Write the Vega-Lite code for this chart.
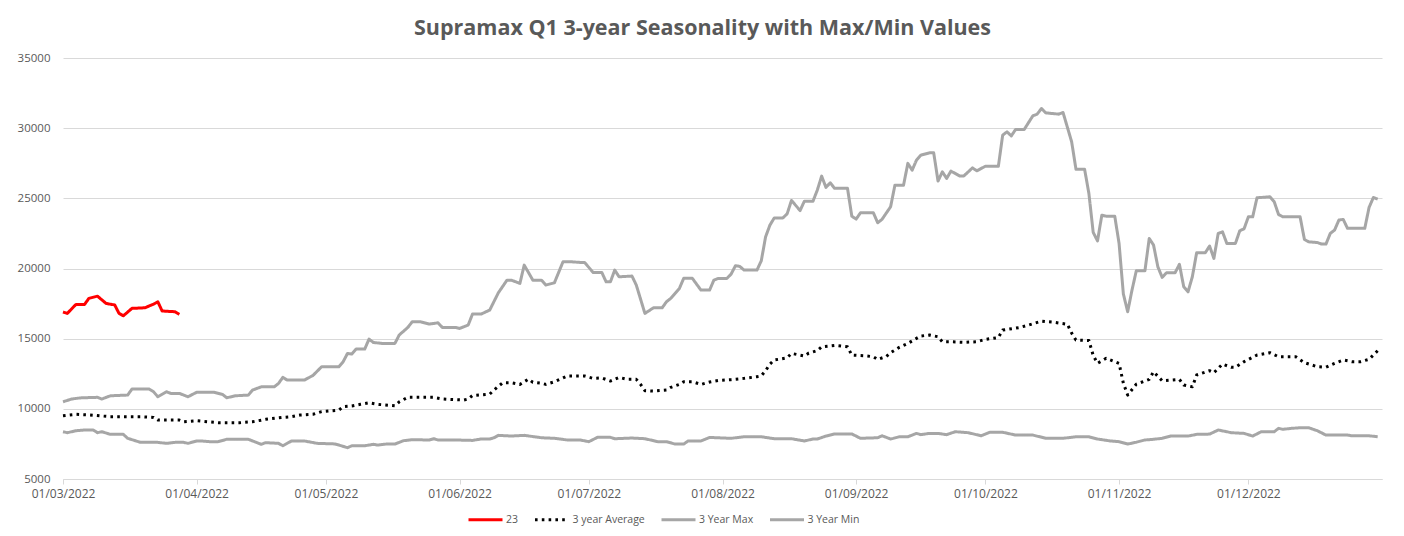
{
"$schema":"https://vega.github.io/schema/vega-lite/v6.json",
"width":1319,"height":421,
"autosize":{"type":"none"},
"padding":{"left":63,"top":58,"right":22,"bottom":57},
"background":"white",
"title":{"text":"Supramax Q1 3-year Seasonality with Max/Min Values","font":"Open Sans","fontSize":21.5,"fontWeight":"bold","color":"#595959","anchor":"middle","dx":-20,"offset":-4,"baseline":"alphabetic"},
"config":{"view":{"stroke":null},
"legend":{"orient":"none","legendX":404,"legendY":443,"direction":"horizontal","title":null,"symbolType":"stroke","symbolSize":1156,"symbolStrokeWidth":3,"labelFont":"Open Sans","labelFontSize":10.5,"labelColor":"#595959","columnPadding":9.5,"labelOffset":2}},
"data":{"values":[
{"series":"3 Year Max","date":"2022-03-01","value":10500},
{"series":"3 Year Max","date":"2022-03-03","value":10700},
{"series":"3 Year Max","date":"2022-03-05","value":10780},
{"series":"3 Year Max","date":"2022-03-09","value":10820},
{"series":"3 Year Max","date":"2022-03-10","value":10700},
{"series":"3 Year Max","date":"2022-03-12","value":10930},
{"series":"3 Year Max","date":"2022-03-16","value":10980},
{"series":"3 Year Max","date":"2022-03-17","value":11410},
{"series":"3 Year Max","date":"2022-03-21","value":11410},
{"series":"3 Year Max","date":"2022-03-22","value":11220},
{"series":"3 Year Max","date":"2022-03-23","value":10860},
{"series":"3 Year Max","date":"2022-03-25","value":11220},
{"series":"3 Year Max","date":"2022-03-26","value":11100},
{"series":"3 Year Max","date":"2022-03-28","value":11100},
{"series":"3 Year Max","date":"2022-03-30","value":10860},
{"series":"3 Year Max","date":"2022-04-01","value":11180},
{"series":"3 Year Max","date":"2022-04-05","value":11180},
{"series":"3 Year Max","date":"2022-04-07","value":11030},
{"series":"3 Year Max","date":"2022-04-08","value":10790},
{"series":"3 Year Max","date":"2022-04-10","value":10930},
{"series":"3 Year Max","date":"2022-04-13","value":10980},
{"series":"3 Year Max","date":"2022-04-14","value":11340},
{"series":"3 Year Max","date":"2022-04-16","value":11570},
{"series":"3 Year Max","date":"2022-04-19","value":11570},
{"series":"3 Year Max","date":"2022-04-20","value":11810},
{"series":"3 Year Max","date":"2022-04-21","value":12240},
{"series":"3 Year Max","date":"2022-04-22","value":12050},
{"series":"3 Year Max","date":"2022-04-26","value":12050},
{"series":"3 Year Max","date":"2022-04-28","value":12380},
{"series":"3 Year Max","date":"2022-04-30","value":13000},
{"series":"3 Year Max","date":"2022-05-04","value":13000},
{"series":"3 Year Max","date":"2022-05-05","value":13360},
{"series":"3 Year Max","date":"2022-05-06","value":13950},
{"series":"3 Year Max","date":"2022-05-07","value":13900},
{"series":"3 Year Max","date":"2022-05-08","value":14260},
{"series":"3 Year Max","date":"2022-05-10","value":14260},
{"series":"3 Year Max","date":"2022-05-11","value":14970},
{"series":"3 Year Max","date":"2022-05-12","value":14730},
{"series":"3 Year Max","date":"2022-05-14","value":14660},
{"series":"3 Year Max","date":"2022-05-17","value":14660},
{"series":"3 Year Max","date":"2022-05-18","value":15260},
{"series":"3 Year Max","date":"2022-05-20","value":15800},
{"series":"3 Year Max","date":"2022-05-21","value":16200},
{"series":"3 Year Max","date":"2022-05-23","value":16200},
{"series":"3 Year Max","date":"2022-05-25","value":16040},
{"series":"3 Year Max","date":"2022-05-27","value":16130},
{"series":"3 Year Max","date":"2022-05-28","value":15800},
{"series":"3 Year Max","date":"2022-05-31","value":15800},
{"series":"3 Year Max","date":"2022-06-01","value":15730},
{"series":"3 Year Max","date":"2022-06-03","value":15970},
{"series":"3 Year Max","date":"2022-06-04","value":16750},
{"series":"3 Year Max","date":"2022-06-06","value":16750},
{"series":"3 Year Max","date":"2022-06-08","value":17040},
{"series":"3 Year Max","date":"2022-06-10","value":18270},
{"series":"3 Year Max","date":"2022-06-12","value":19170},
{"series":"3 Year Max","date":"2022-06-13","value":19170},
{"series":"3 Year Max","date":"2022-06-15","value":18940},
{"series":"3 Year Max","date":"2022-06-16","value":20240},
{"series":"3 Year Max","date":"2022-06-18","value":19170},
{"series":"3 Year Max","date":"2022-06-20","value":19170},
{"series":"3 Year Max","date":"2022-06-21","value":18820},
{"series":"3 Year Max","date":"2022-06-23","value":18980},
{"series":"3 Year Max","date":"2022-06-25","value":20480},
{"series":"3 Year Max","date":"2022-06-27","value":20480},
{"series":"3 Year Max","date":"2022-06-29","value":20430},
{"series":"3 Year Max","date":"2022-06-30","value":20430},
{"series":"3 Year Max","date":"2022-07-02","value":19720},
{"series":"3 Year Max","date":"2022-07-04","value":19720},
{"series":"3 Year Max","date":"2022-07-05","value":19050},
{"series":"3 Year Max","date":"2022-07-06","value":19050},
{"series":"3 Year Max","date":"2022-07-07","value":19890},
{"series":"3 Year Max","date":"2022-07-08","value":19410},
{"series":"3 Year Max","date":"2022-07-11","value":19460},
{"series":"3 Year Max","date":"2022-07-12","value":18820},
{"series":"3 Year Max","date":"2022-07-14","value":16800},
{"series":"3 Year Max","date":"2022-07-16","value":17200},
{"series":"3 Year Max","date":"2022-07-18","value":17200},
{"series":"3 Year Max","date":"2022-07-19","value":17630},
{"series":"3 Year Max","date":"2022-07-20","value":17870},
{"series":"3 Year Max","date":"2022-07-22","value":18580},
{"series":"3 Year Max","date":"2022-07-23","value":19300},
{"series":"3 Year Max","date":"2022-07-25","value":19300},
{"series":"3 Year Max","date":"2022-07-27","value":18460},
{"series":"3 Year Max","date":"2022-07-29","value":18460},
{"series":"3 Year Max","date":"2022-07-30","value":19170},
{"series":"3 Year Max","date":"2022-07-31","value":19290},
{"series":"3 Year Max","date":"2022-08-02","value":19290},
{"series":"3 Year Max","date":"2022-08-03","value":19600},
{"series":"3 Year Max","date":"2022-08-04","value":20200},
{"series":"3 Year Max","date":"2022-08-05","value":20150},
{"series":"3 Year Max","date":"2022-08-06","value":19890},
{"series":"3 Year Max","date":"2022-08-09","value":19890},
{"series":"3 Year Max","date":"2022-08-10","value":20550},
{"series":"3 Year Max","date":"2022-08-11","value":22260},
{"series":"3 Year Max","date":"2022-08-12","value":23090},
{"series":"3 Year Max","date":"2022-08-13","value":23600},
{"series":"3 Year Max","date":"2022-08-15","value":23600},
{"series":"3 Year Max","date":"2022-08-16","value":23900},
{"series":"3 Year Max","date":"2022-08-17","value":24850},
{"series":"3 Year Max","date":"2022-08-19","value":24130},
{"series":"3 Year Max","date":"2022-08-20","value":24800},
{"series":"3 Year Max","date":"2022-08-22","value":24800},
{"series":"3 Year Max","date":"2022-08-23","value":25590},
{"series":"3 Year Max","date":"2022-08-24","value":26580},
{"series":"3 Year Max","date":"2022-08-25","value":25780},
{"series":"3 Year Max","date":"2022-08-26","value":26110},
{"series":"3 Year Max","date":"2022-08-27","value":25710},
{"series":"3 Year Max","date":"2022-08-30","value":25710},
{"series":"3 Year Max","date":"2022-08-31","value":23730},
{"series":"3 Year Max","date":"2022-09-01","value":23520},
{"series":"3 Year Max","date":"2022-09-02","value":23970},
{"series":"3 Year Max","date":"2022-09-05","value":23970},
{"series":"3 Year Max","date":"2022-09-06","value":23260},
{"series":"3 Year Max","date":"2022-09-07","value":23500},
{"series":"3 Year Max","date":"2022-09-09","value":24400},
{"series":"3 Year Max","date":"2022-09-10","value":25940},
{"series":"3 Year Max","date":"2022-09-12","value":25940},
{"series":"3 Year Max","date":"2022-09-13","value":27490},
{"series":"3 Year Max","date":"2022-09-14","value":27010},
{"series":"3 Year Max","date":"2022-09-15","value":27720},
{"series":"3 Year Max","date":"2022-09-16","value":28080},
{"series":"3 Year Max","date":"2022-09-18","value":28240},
{"series":"3 Year Max","date":"2022-09-19","value":28240},
{"series":"3 Year Max","date":"2022-09-20","value":26230},
{"series":"3 Year Max","date":"2022-09-21","value":26890},
{"series":"3 Year Max","date":"2022-09-22","value":26420},
{"series":"3 Year Max","date":"2022-09-23","value":26940},
{"series":"3 Year Max","date":"2022-09-25","value":26600},
{"series":"3 Year Max","date":"2022-09-26","value":26600},
{"series":"3 Year Max","date":"2022-09-28","value":27170},
{"series":"3 Year Max","date":"2022-09-29","value":26960},
{"series":"3 Year Max","date":"2022-10-01","value":27290},
{"series":"3 Year Max","date":"2022-10-04","value":27290},
{"series":"3 Year Max","date":"2022-10-05","value":29500},
{"series":"3 Year Max","date":"2022-10-06","value":29740},
{"series":"3 Year Max","date":"2022-10-07","value":29450},
{"series":"3 Year Max","date":"2022-10-08","value":29910},
{"series":"3 Year Max","date":"2022-10-10","value":29910},
{"series":"3 Year Max","date":"2022-10-12","value":30880},
{"series":"3 Year Max","date":"2022-10-13","value":31000},
{"series":"3 Year Max","date":"2022-10-14","value":31400},
{"series":"3 Year Max","date":"2022-10-15","value":31090},
{"series":"3 Year Max","date":"2022-10-18","value":31000},
{"series":"3 Year Max","date":"2022-10-19","value":31120},
{"series":"3 Year Max","date":"2022-10-21","value":29030},
{"series":"3 Year Max","date":"2022-10-22","value":27080},
{"series":"3 Year Max","date":"2022-10-24","value":27080},
{"series":"3 Year Max","date":"2022-10-25","value":25350},
{"series":"3 Year Max","date":"2022-10-26","value":22570},
{"series":"3 Year Max","date":"2022-10-27","value":21970},
{"series":"3 Year Max","date":"2022-10-28","value":23800},
{"series":"3 Year Max","date":"2022-10-29","value":23730},
{"series":"3 Year Max","date":"2022-10-31","value":23730},
{"series":"3 Year Max","date":"2022-11-01","value":21790},
{"series":"3 Year Max","date":"2022-11-02","value":18180},
{"series":"3 Year Max","date":"2022-11-03","value":16920},
{"series":"3 Year Max","date":"2022-11-04","value":18460},
{"series":"3 Year Max","date":"2022-11-05","value":19840},
{"series":"3 Year Max","date":"2022-11-07","value":19840},
{"series":"3 Year Max","date":"2022-11-08","value":22140},
{"series":"3 Year Max","date":"2022-11-09","value":21670},
{"series":"3 Year Max","date":"2022-11-10","value":20120},
{"series":"3 Year Max","date":"2022-11-11","value":19370},
{"series":"3 Year Max","date":"2022-11-12","value":19700},
{"series":"3 Year Max","date":"2022-11-14","value":19700},
{"series":"3 Year Max","date":"2022-11-15","value":20300},
{"series":"3 Year Max","date":"2022-11-16","value":18700},
{"series":"3 Year Max","date":"2022-11-17","value":18340},
{"series":"3 Year Max","date":"2022-11-18","value":19410},
{"series":"3 Year Max","date":"2022-11-19","value":21120},
{"series":"3 Year Max","date":"2022-11-21","value":21120},
{"series":"3 Year Max","date":"2022-11-22","value":21600},
{"series":"3 Year Max","date":"2022-11-23","value":20720},
{"series":"3 Year Max","date":"2022-11-24","value":22500},
{"series":"3 Year Max","date":"2022-11-25","value":22610},
{"series":"3 Year Max","date":"2022-11-26","value":21790},
{"series":"3 Year Max","date":"2022-11-28","value":21790},
{"series":"3 Year Max","date":"2022-11-29","value":22690},
{"series":"3 Year Max","date":"2022-11-30","value":22830},
{"series":"3 Year Max","date":"2022-12-01","value":23680},
{"series":"3 Year Max","date":"2022-12-02","value":23680},
{"series":"3 Year Max","date":"2022-12-03","value":25040},
{"series":"3 Year Max","date":"2022-12-06","value":25110},
{"series":"3 Year Max","date":"2022-12-07","value":24750},
{"series":"3 Year Max","date":"2022-12-08","value":23850},
{"series":"3 Year Max","date":"2022-12-09","value":23680},
{"series":"3 Year Max","date":"2022-12-13","value":23680},
{"series":"3 Year Max","date":"2022-12-14","value":22070},
{"series":"3 Year Max","date":"2022-12-15","value":21900},
{"series":"3 Year Max","date":"2022-12-17","value":21850},
{"series":"3 Year Max","date":"2022-12-18","value":21740},
{"series":"3 Year Max","date":"2022-12-19","value":21740},
{"series":"3 Year Max","date":"2022-12-20","value":22500},
{"series":"3 Year Max","date":"2022-12-21","value":22740},
{"series":"3 Year Max","date":"2022-12-22","value":23450},
{"series":"3 Year Max","date":"2022-12-23","value":23500},
{"series":"3 Year Max","date":"2022-12-24","value":22860},
{"series":"3 Year Max","date":"2022-12-28","value":22860},
{"series":"3 Year Max","date":"2022-12-29","value":24350},
{"series":"3 Year Max","date":"2022-12-30","value":25060},
{"series":"3 Year Max","date":"2022-12-31","value":24940},
{"series":"3 Year Min","date":"2022-03-01","value":8370},
{"series":"3 Year Min","date":"2022-03-02","value":8300},
{"series":"3 Year Min","date":"2022-03-04","value":8440},
{"series":"3 Year Min","date":"2022-03-06","value":8490},
{"series":"3 Year Min","date":"2022-03-08","value":8490},
{"series":"3 Year Min","date":"2022-03-09","value":8300},
{"series":"3 Year Min","date":"2022-03-10","value":8370},
{"series":"3 Year Min","date":"2022-03-12","value":8180},
{"series":"3 Year Min","date":"2022-03-15","value":8180},
{"series":"3 Year Min","date":"2022-03-16","value":7900},
{"series":"3 Year Min","date":"2022-03-19","value":7610},
{"series":"3 Year Min","date":"2022-03-23","value":7610},
{"series":"3 Year Min","date":"2022-03-25","value":7540},
{"series":"3 Year Min","date":"2022-03-27","value":7610},
{"series":"3 Year Min","date":"2022-03-29","value":7610},
{"series":"3 Year Min","date":"2022-03-30","value":7540},
{"series":"3 Year Min","date":"2022-04-01","value":7710},
{"series":"3 Year Min","date":"2022-04-02","value":7710},
{"series":"3 Year Min","date":"2022-04-04","value":7660},
{"series":"3 Year Min","date":"2022-04-06","value":7660},
{"series":"3 Year Min","date":"2022-04-08","value":7830},
{"series":"3 Year Min","date":"2022-04-13","value":7830},
{"series":"3 Year Min","date":"2022-04-15","value":7590},
{"series":"3 Year Min","date":"2022-04-16","value":7470},
{"series":"3 Year Min","date":"2022-04-17","value":7590},
{"series":"3 Year Min","date":"2022-04-20","value":7540},
{"series":"3 Year Min","date":"2022-04-21","value":7370},
{"series":"3 Year Min","date":"2022-04-23","value":7710},
{"series":"3 Year Min","date":"2022-04-26","value":7710},
{"series":"3 Year Min","date":"2022-04-29","value":7540},
{"series":"3 Year Min","date":"2022-05-03","value":7500},
{"series":"3 Year Min","date":"2022-05-04","value":7420},
{"series":"3 Year Min","date":"2022-05-06","value":7230},
{"series":"3 Year Min","date":"2022-05-07","value":7370},
{"series":"3 Year Min","date":"2022-05-10","value":7370},
{"series":"3 Year Min","date":"2022-05-12","value":7470},
{"series":"3 Year Min","date":"2022-05-13","value":7420},
{"series":"3 Year Min","date":"2022-05-15","value":7490},
{"series":"3 Year Min","date":"2022-05-17","value":7490},
{"series":"3 Year Min","date":"2022-05-19","value":7730},
{"series":"3 Year Min","date":"2022-05-21","value":7800},
{"series":"3 Year Min","date":"2022-05-25","value":7780},
{"series":"3 Year Min","date":"2022-05-26","value":7870},
{"series":"3 Year Min","date":"2022-05-27","value":7780},
{"series":"3 Year Min","date":"2022-05-31","value":7780},
{"series":"3 Year Min","date":"2022-06-04","value":7750},
{"series":"3 Year Min","date":"2022-06-06","value":7850},
{"series":"3 Year Min","date":"2022-06-08","value":7850},
{"series":"3 Year Min","date":"2022-06-09","value":7940},
{"series":"3 Year Min","date":"2022-06-10","value":8110},
{"series":"3 Year Min","date":"2022-06-13","value":8060},
{"series":"3 Year Min","date":"2022-06-16","value":8110},
{"series":"3 Year Min","date":"2022-06-20","value":7940},
{"series":"3 Year Min","date":"2022-06-23","value":7900},
{"series":"3 Year Min","date":"2022-06-26","value":7780},
{"series":"3 Year Min","date":"2022-06-29","value":7780},
{"series":"3 Year Min","date":"2022-07-01","value":7660},
{"series":"3 Year Min","date":"2022-07-03","value":7970},
{"series":"3 Year Min","date":"2022-07-06","value":7970},
{"series":"3 Year Min","date":"2022-07-07","value":7870},
{"series":"3 Year Min","date":"2022-07-11","value":7920},
{"series":"3 Year Min","date":"2022-07-14","value":7870},
{"series":"3 Year Min","date":"2022-07-17","value":7660},
{"series":"3 Year Min","date":"2022-07-19","value":7660},
{"series":"3 Year Min","date":"2022-07-21","value":7490},
{"series":"3 Year Min","date":"2022-07-23","value":7490},
{"series":"3 Year Min","date":"2022-07-24","value":7710},
{"series":"3 Year Min","date":"2022-07-27","value":7710},
{"series":"3 Year Min","date":"2022-07-29","value":7960},
{"series":"3 Year Min","date":"2022-08-03","value":7900},
{"series":"3 Year Min","date":"2022-08-06","value":8010},
{"series":"3 Year Min","date":"2022-08-10","value":8010},
{"series":"3 Year Min","date":"2022-08-13","value":7870},
{"series":"3 Year Min","date":"2022-08-17","value":7870},
{"series":"3 Year Min","date":"2022-08-20","value":7710},
{"series":"3 Year Min","date":"2022-08-22","value":7850},
{"series":"3 Year Min","date":"2022-08-23","value":7850},
{"series":"3 Year Min","date":"2022-08-25","value":8060},
{"series":"3 Year Min","date":"2022-08-27","value":8210},
{"series":"3 Year Min","date":"2022-08-31","value":8210},
{"series":"3 Year Min","date":"2022-09-02","value":7900},
{"series":"3 Year Min","date":"2022-09-06","value":7940},
{"series":"3 Year Min","date":"2022-09-07","value":8080},
{"series":"3 Year Min","date":"2022-09-09","value":7850},
{"series":"3 Year Min","date":"2022-09-11","value":8010},
{"series":"3 Year Min","date":"2022-09-13","value":8010},
{"series":"3 Year Min","date":"2022-09-15","value":8250},
{"series":"3 Year Min","date":"2022-09-16","value":8160},
{"series":"3 Year Min","date":"2022-09-18","value":8250},
{"series":"3 Year Min","date":"2022-09-20","value":8250},
{"series":"3 Year Min","date":"2022-09-22","value":8160},
{"series":"3 Year Min","date":"2022-09-24","value":8370},
{"series":"3 Year Min","date":"2022-09-27","value":8300},
{"series":"3 Year Min","date":"2022-09-30","value":8080},
{"series":"3 Year Min","date":"2022-10-02","value":8330},
{"series":"3 Year Min","date":"2022-10-05","value":8330},
{"series":"3 Year Min","date":"2022-10-08","value":8130},
{"series":"3 Year Min","date":"2022-10-12","value":8130},
{"series":"3 Year Min","date":"2022-10-15","value":7900},
{"series":"3 Year Min","date":"2022-10-19","value":7900},
{"series":"3 Year Min","date":"2022-10-22","value":8010},
{"series":"3 Year Min","date":"2022-10-25","value":8010},
{"series":"3 Year Min","date":"2022-10-27","value":7850},
{"series":"3 Year Min","date":"2022-10-30","value":7710},
{"series":"3 Year Min","date":"2022-11-01","value":7660},
{"series":"3 Year Min","date":"2022-11-03","value":7490},
{"series":"3 Year Min","date":"2022-11-05","value":7620},
{"series":"3 Year Min","date":"2022-11-07","value":7780},
{"series":"3 Year Min","date":"2022-11-09","value":7830},
{"series":"3 Year Min","date":"2022-11-11","value":7900},
{"series":"3 Year Min","date":"2022-11-13","value":8060},
{"series":"3 Year Min","date":"2022-11-17","value":8060},
{"series":"3 Year Min","date":"2022-11-19","value":8180},
{"series":"3 Year Min","date":"2022-11-22","value":8200},
{"series":"3 Year Min","date":"2022-11-24","value":8490},
{"series":"3 Year Min","date":"2022-11-26","value":8370},
{"series":"3 Year Min","date":"2022-11-27","value":8300},
{"series":"3 Year Min","date":"2022-11-30","value":8250},
{"series":"3 Year Min","date":"2022-12-02","value":8060},
{"series":"3 Year Min","date":"2022-12-04","value":8370},
{"series":"3 Year Min","date":"2022-12-07","value":8370},
{"series":"3 Year Min","date":"2022-12-08","value":8610},
{"series":"3 Year Min","date":"2022-12-09","value":8540},
{"series":"3 Year Min","date":"2022-12-11","value":8610},
{"series":"3 Year Min","date":"2022-12-13","value":8650},
{"series":"3 Year Min","date":"2022-12-15","value":8650},
{"series":"3 Year Min","date":"2022-12-17","value":8440},
{"series":"3 Year Min","date":"2022-12-19","value":8130},
{"series":"3 Year Min","date":"2022-12-24","value":8130},
{"series":"3 Year Min","date":"2022-12-25","value":8080},
{"series":"3 Year Min","date":"2022-12-29","value":8080},
{"series":"3 Year Min","date":"2022-12-31","value":8010},
{"series":"3 year Average","date":"2022-03-01","value":9510},
{"series":"3 year Average","date":"2022-03-04","value":9610},
{"series":"3 year Average","date":"2022-03-07","value":9570},
{"series":"3 year Average","date":"2022-03-12","value":9440},
{"series":"3 year Average","date":"2022-03-19","value":9440},
{"series":"3 year Average","date":"2022-03-22","value":9390},
{"series":"3 year Average","date":"2022-03-23","value":9200},
{"series":"3 year Average","date":"2022-03-28","value":9200},
{"series":"3 year Average","date":"2022-03-29","value":9080},
{"series":"3 year Average","date":"2022-04-01","value":9150},
{"series":"3 year Average","date":"2022-04-05","value":9040},
{"series":"3 year Average","date":"2022-04-06","value":9010},
{"series":"3 year Average","date":"2022-04-11","value":9010},
{"series":"3 year Average","date":"2022-04-14","value":9080},
{"series":"3 year Average","date":"2022-04-17","value":9250},
{"series":"3 year Average","date":"2022-04-21","value":9390},
{"series":"3 year Average","date":"2022-04-23","value":9440},
{"series":"3 year Average","date":"2022-04-25","value":9560},
{"series":"3 year Average","date":"2022-04-28","value":9610},
{"series":"3 year Average","date":"2022-04-30","value":9800},
{"series":"3 year Average","date":"2022-05-04","value":9910},
{"series":"3 year Average","date":"2022-05-05","value":10150},
{"series":"3 year Average","date":"2022-05-07","value":10200},
{"series":"3 year Average","date":"2022-05-09","value":10320},
{"series":"3 year Average","date":"2022-05-11","value":10430},
{"series":"3 year Average","date":"2022-05-13","value":10320},
{"series":"3 year Average","date":"2022-05-17","value":10220},
{"series":"3 year Average","date":"2022-05-18","value":10500},
{"series":"3 year Average","date":"2022-05-20","value":10820},
{"series":"3 year Average","date":"2022-05-26","value":10820},
{"series":"3 year Average","date":"2022-05-28","value":10700},
{"series":"3 year Average","date":"2022-05-29","value":10680},
{"series":"3 year Average","date":"2022-06-02","value":10630},
{"series":"3 year Average","date":"2022-06-03","value":10700},
{"series":"3 year Average","date":"2022-06-04","value":10950},
{"series":"3 year Average","date":"2022-06-08","value":11050},
{"series":"3 year Average","date":"2022-06-09","value":11340},
{"series":"3 year Average","date":"2022-06-11","value":11860},
{"series":"3 year Average","date":"2022-06-13","value":11860},
{"series":"3 year Average","date":"2022-06-15","value":11740},
{"series":"3 year Average","date":"2022-06-17","value":12120},
{"series":"3 year Average","date":"2022-06-18","value":11890},
{"series":"3 year Average","date":"2022-06-20","value":11820},
{"series":"3 year Average","date":"2022-06-21","value":11740},
{"series":"3 year Average","date":"2022-06-23","value":11930},
{"series":"3 year Average","date":"2022-06-26","value":12340},
{"series":"3 year Average","date":"2022-06-30","value":12340},
{"series":"3 year Average","date":"2022-07-02","value":12170},
{"series":"3 year Average","date":"2022-07-04","value":12200},
{"series":"3 year Average","date":"2022-07-06","value":11980},
{"series":"3 year Average","date":"2022-07-08","value":12240},
{"series":"3 year Average","date":"2022-07-10","value":12100},
{"series":"3 year Average","date":"2022-07-12","value":12100},
{"series":"3 year Average","date":"2022-07-13","value":11740},
{"series":"3 year Average","date":"2022-07-14","value":11290},
{"series":"3 year Average","date":"2022-07-16","value":11260},
{"series":"3 year Average","date":"2022-07-19","value":11340},
{"series":"3 year Average","date":"2022-07-20","value":11530},
{"series":"3 year Average","date":"2022-07-22","value":11740},
{"series":"3 year Average","date":"2022-07-23","value":11930},
{"series":"3 year Average","date":"2022-07-25","value":11930},
{"series":"3 year Average","date":"2022-07-27","value":11740},
{"series":"3 year Average","date":"2022-07-29","value":11910},
{"series":"3 year Average","date":"2022-07-31","value":12020},
{"series":"3 year Average","date":"2022-08-03","value":12080},
{"series":"3 year Average","date":"2022-08-06","value":12170},
{"series":"3 year Average","date":"2022-08-09","value":12290},
{"series":"3 year Average","date":"2022-08-10","value":12350},
{"series":"3 year Average","date":"2022-08-11","value":12720},
{"series":"3 year Average","date":"2022-08-12","value":13190},
{"series":"3 year Average","date":"2022-08-13","value":13480},
{"series":"3 year Average","date":"2022-08-14","value":13530},
{"series":"3 year Average","date":"2022-08-16","value":13640},
{"series":"3 year Average","date":"2022-08-17","value":13950},
{"series":"3 year Average","date":"2022-08-20","value":13770},
{"series":"3 year Average","date":"2022-08-21","value":13970},
{"series":"3 year Average","date":"2022-08-23","value":14150},
{"series":"3 year Average","date":"2022-08-24","value":14420},
{"series":"3 year Average","date":"2022-08-27","value":14520},
{"series":"3 year Average","date":"2022-08-30","value":14420},
{"series":"3 year Average","date":"2022-08-31","value":13830},
{"series":"3 year Average","date":"2022-09-03","value":13780},
{"series":"3 year Average","date":"2022-09-05","value":13710},
{"series":"3 year Average","date":"2022-09-06","value":13520},
{"series":"3 year Average","date":"2022-09-08","value":13730},
{"series":"3 year Average","date":"2022-09-09","value":14000},
{"series":"3 year Average","date":"2022-09-11","value":14380},
{"series":"3 year Average","date":"2022-09-13","value":14660},
{"series":"3 year Average","date":"2022-09-15","value":15020},
{"series":"3 year Average","date":"2022-09-16","value":15190},
{"series":"3 year Average","date":"2022-09-18","value":15260},
{"series":"3 year Average","date":"2022-09-20","value":15140},
{"series":"3 year Average","date":"2022-09-21","value":14780},
{"series":"3 year Average","date":"2022-09-23","value":14780},
{"series":"3 year Average","date":"2022-09-26","value":14740},
{"series":"3 year Average","date":"2022-09-29","value":14780},
{"series":"3 year Average","date":"2022-10-01","value":14950},
{"series":"3 year Average","date":"2022-10-04","value":15080},
{"series":"3 year Average","date":"2022-10-05","value":15610},
{"series":"3 year Average","date":"2022-10-09","value":15800},
{"series":"3 year Average","date":"2022-10-11","value":15970},
{"series":"3 year Average","date":"2022-10-14","value":16250},
{"series":"3 year Average","date":"2022-10-17","value":16160},
{"series":"3 year Average","date":"2022-10-20","value":16030},
{"series":"3 year Average","date":"2022-10-21","value":15400},
{"series":"3 year Average","date":"2022-10-22","value":14900},
{"series":"3 year Average","date":"2022-10-25","value":14870},
{"series":"3 year Average","date":"2022-10-26","value":13800},
{"series":"3 year Average","date":"2022-10-27","value":13240},
{"series":"3 year Average","date":"2022-10-29","value":13600},
{"series":"3 year Average","date":"2022-11-01","value":13240},
{"series":"3 year Average","date":"2022-11-02","value":11820},
{"series":"3 year Average","date":"2022-11-03","value":10980},
{"series":"3 year Average","date":"2022-11-05","value":11760},
{"series":"3 year Average","date":"2022-11-08","value":12100},
{"series":"3 year Average","date":"2022-11-09","value":12640},
{"series":"3 year Average","date":"2022-11-11","value":12000},
{"series":"3 year Average","date":"2022-11-15","value":12100},
{"series":"3 year Average","date":"2022-11-16","value":11700},
{"series":"3 year Average","date":"2022-11-18","value":11570},
{"series":"3 year Average","date":"2022-11-19","value":12410},
{"series":"3 year Average","date":"2022-11-22","value":12720},
{"series":"3 year Average","date":"2022-11-23","value":12570},
{"series":"3 year Average","date":"2022-11-25","value":13190},
{"series":"3 year Average","date":"2022-11-27","value":12960},
{"series":"3 year Average","date":"2022-11-28","value":12960},
{"series":"3 year Average","date":"2022-11-30","value":13360},
{"series":"3 year Average","date":"2022-12-03","value":13830},
{"series":"3 year Average","date":"2022-12-06","value":14000},
{"series":"3 year Average","date":"2022-12-08","value":13710},
{"series":"3 year Average","date":"2022-12-12","value":13710},
{"series":"3 year Average","date":"2022-12-14","value":13290},
{"series":"3 year Average","date":"2022-12-17","value":13000},
{"series":"3 year Average","date":"2022-12-19","value":12960},
{"series":"3 year Average","date":"2022-12-21","value":13240},
{"series":"3 year Average","date":"2022-12-23","value":13480},
{"series":"3 year Average","date":"2022-12-25","value":13360},
{"series":"3 year Average","date":"2022-12-27","value":13360},
{"series":"3 year Average","date":"2022-12-29","value":13530},
{"series":"3 year Average","date":"2022-12-31","value":14140},
{"series":"23","date":"2022-03-01","value":16900},
{"series":"23","date":"2022-03-02","value":16800},
{"series":"23","date":"2022-03-04","value":17440},
{"series":"23","date":"2022-03-06","value":17440},
{"series":"23","date":"2022-03-07","value":17870},
{"series":"23","date":"2022-03-09","value":18030},
{"series":"23","date":"2022-03-11","value":17510},
{"series":"23","date":"2022-03-13","value":17400},
{"series":"23","date":"2022-03-14","value":16800},
{"series":"23","date":"2022-03-15","value":16630},
{"series":"23","date":"2022-03-17","value":17160},
{"series":"23","date":"2022-03-20","value":17200},
{"series":"23","date":"2022-03-22","value":17460},
{"series":"23","date":"2022-03-23","value":17630},
{"series":"23","date":"2022-03-24","value":16970},
{"series":"23","date":"2022-03-27","value":16920},
{"series":"23","date":"2022-03-28","value":16730}
]},
"mark":{"type":"line","strokeWidth":3,"strokeCap":"butt","strokeJoin":"round"},
"encoding":{
"x":{"field":"date","type":"temporal",
 "scale":{"type":"utc","nice":false,"domain":[{"year":2022,"month":3,"date":1,"utc":true},{"year":2023,"month":1,"date":1,"utc":true}]},
 "axis":{"title":null,"format":"%d/%m/%Y","grid":false,"labelFlush":false,"values":[{"year":2022,"month":3,"date":1,"utc":true},{"year":2022,"month":4,"date":1,"utc":true},{"year":2022,"month":5,"date":1,"utc":true},{"year":2022,"month":6,"date":1,"utc":true},{"year":2022,"month":7,"date":1,"utc":true},{"year":2022,"month":8,"date":1,"utc":true},{"year":2022,"month":9,"date":1,"utc":true},{"year":2022,"month":10,"date":1,"utc":true},{"year":2022,"month":11,"date":1,"utc":true},{"year":2022,"month":12,"date":1,"utc":true}],
 "labelFont":"Open Sans","labelFontSize":12,"labelColor":"#595959","tickColor":"#D9D9D9","tickSize":5,"domainColor":"#D9D9D9","labelPadding":4,"labelOverlap":false}},
"y":{"field":"value","type":"quantitative",
 "scale":{"domain":[5000,35000],"nice":false,"zero":false},
 "axis":{"title":null,"values":[5000,10000,15000,20000,25000,30000,35000],"format":"d","grid":true,"gridColor":"#D9D9D9","domain":false,"ticks":false,"labelPadding":13,"labelFont":"Open Sans","labelFontSize":11.5,"labelColor":"#595959"}},
"color":{"field":"series","type":"nominal","scale":{"domain":["23","3 year Average","3 Year Max","3 Year Min"],"range":["#FF0000","#000000","#A6A6A6","#A6A6A6"]}},
"strokeDash":{"field":"series","type":"nominal","scale":{"domain":["23","3 year Average","3 Year Max","3 Year Min"],"range":[[1,0],[2.6,4.2],[1,0],[1,0]]}}
}
}
